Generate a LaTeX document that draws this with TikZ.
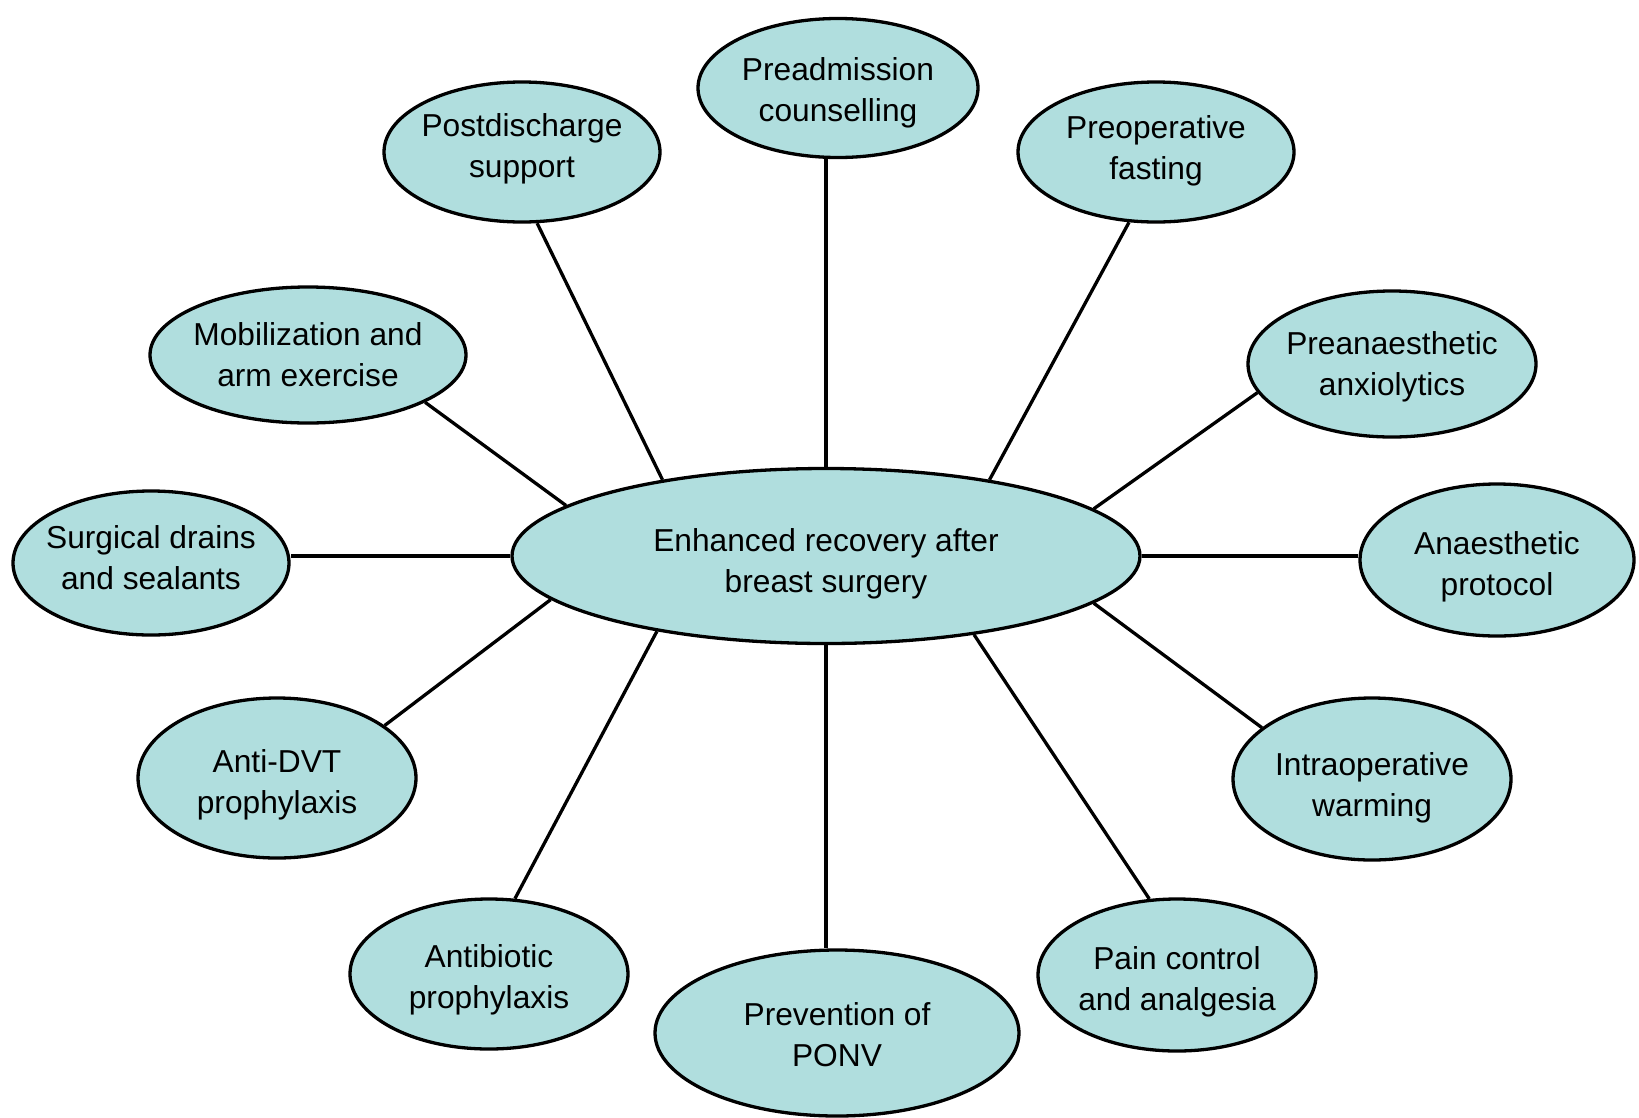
\documentclass[tikz,border=0pt]{standalone}
\usepackage{fontspec}
\setmainfont{Liberation Sans}
\usetikzlibrary{shapes.geometric}
\definecolor{bub}{RGB}{176,222,222}
\newcommand{\tx}[2]{\makebox[0pt]{\raisebox{-#1pt}[\height][\depth]{\begin{tabular}{@{}c@{}}#2\end{tabular}}}}
\begin{document}
\begin{tikzpicture}[x=1pt,y=-1pt,
  bubble/.style={ellipse,draw=black,line width=3.3pt,fill=bub,inner sep=0pt,align=center,
    font=\fontsize{31.7}{41}\selectfont},
  conn/.style={line width=3.3pt,draw=black}]
\useasboundingbox (0,0) rectangle (1639,1117);
\node[bubble,minimum width=628,minimum height=175] (c) at (826,556) {\tx{8}{Enhanced recovery after\\breast surgery}};
\node[bubble,minimum width=280,minimum height=139] (pa) at (838,88) {\tx{5}{Preadmission\\counselling}};
\node[bubble,minimum width=276,minimum height=140] (pd) at (522,152) {\tx{-3}{Postdischarge\\support}};
\node[bubble,minimum width=276,minimum height=140] (pf) at (1156,152) {\tx{-1}{Preoperative\\fasting}};
\node[bubble,minimum width=316,minimum height=136] (mob) at (308,355) {\tx{3}{Mobilization and\\arm exercise}};
\node[bubble,minimum width=288,minimum height=146] (pan) at (1392,364) {\tx{3}{Preanaesthetic\\anxiolytics}};
\node[bubble,minimum width=276,minimum height=144] (sd) at (151,563) {\tx{-2}{Surgical drains\\and sealants}};
\node[bubble,minimum width=274,minimum height=152] (ap) at (1497,560) {\tx{7}{Anaesthetic\\protocol}};
\node[bubble,minimum width=278,minimum height=160] (dvt) at (277,778) {\tx{7}{Anti-DVT\\prophylaxis}};
\node[bubble,minimum width=278,minimum height=162] (iw) at (1372,779) {\tx{9}{Intraoperative\\warming}};
\node[bubble,minimum width=278,minimum height=150] (ab) at (489,974) {\tx{6}{Antibiotic\\prophylaxis}};
\node[bubble,minimum width=278,minimum height=152] (pain) at (1177,975) {\tx{7}{Pain control\\and analgesia}};
\node[bubble,minimum width=364,minimum height=166] (ponv) at (837,1033) {\tx{5}{Prevention of\\PONV}};
\draw[conn] (c.north) -- (c.north |- pa.south);
\draw[conn] (c.south) -- (c.south |- ponv.north);
\draw[conn] (c.west) -- (c.west -| sd.east);
\draw[conn] (c.east) -- (c.east -| ap.west);
\draw[conn] (c.155.6) -- (pd.282);
\draw[conn] (c.25.1) -- (pf.249.8);
\draw[conn] (c.169.1) -- (mob.338.8);
\draw[conn] (c.10) -- (pan.192.4);
\draw[conn] (c.189.2) -- (dvt.26.6);
\draw[conn] (c.350) -- (iw.155.5);
\draw[conn] (c.204.9) -- (ab.71.3);
\draw[conn] (c.332.5) -- (pain.110.6);
\end{tikzpicture}
\end{document}
